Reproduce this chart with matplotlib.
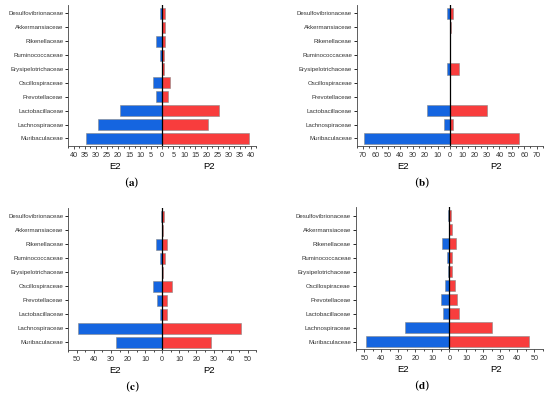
import matplotlib
matplotlib.use("Agg")
import matplotlib.pyplot as plt
import numpy as np
from matplotlib.ticker import FuncFormatter, MultipleLocator

plt.rcParams['font.family'] = ['Liberation Sans', 'DejaVu Sans']
plt.rcParams['mathtext.fontset'] = 'stix'

categories = ["Muribaculaceae", "Lachnospiraceae", "Lactobacillaceae", "Prevotellaceae",
              "Oscillospiraceae", "Erysipelotrichaceae", "Ruminococcaceae", "Rikenellaceae",
              "Akkermansiaceae", "Desulfovibrionaceae"]

e2_a = [34.5, 29.2, 19.0, 3.0, 4.4, 0.3, 1.2, 2.6, 0.2, 1.0]
p2_a = [39.4, 20.5, 25.8, 2.7, 3.3, 0.6, 1.0, 1.3, 1.2, 1.3]

e2_b = [69.0, 4.8, 18.3, 0.0, 0.0, 2.7, 0.0, 0.0, 0.0, 2.7]
p2_b = [55.5, 2.2, 29.6, 0.0, 0.0, 7.5, 0.0, 0.0, 1.0, 2.7]

e2_c = [27.3, 49.0, 1.6, 3.3, 5.3, 0.2, 1.4, 3.7, 0.0, 0.8]
p2_c = [28.3, 45.8, 2.5, 2.9, 5.8, 0.5, 1.6, 2.9, 0.6, 1.2]

e2_d = [49.0, 26.3, 3.5, 5.1, 2.4, 1.0, 1.2, 4.5, 0.0, 0.6]
p2_d = [47.1, 24.8, 5.7, 4.5, 3.1, 1.4, 1.4, 3.9, 1.8, 0.8]

panels = [
    ("a", e2_a, p2_a, 42.5, 5, 2.5, [0.124, 0.631, 0.342, 0.356]),
    ("b", e2_b, p2_b, 75, 10, 5, [0.649, 0.631, 0.338, 0.356]),
    ("c", e2_c, p2_c, 55, 10, 5, [0.124, 0.116, 0.342, 0.359]),
    ("d", e2_d, p2_d, 55, 10, 5, [0.647, 0.118, 0.340, 0.359]),
]
label_pos = {"a": (132/550, 1-183/396), "b": (422/550, 1-183/396),
             "c": (132/550, 1-387/396), "d": (422/550, 1-386/396)}

blue = "#1565E0"
red = "#F83D3D"

fig = plt.figure(figsize=(5.5, 3.96), dpi=100)
y = np.arange(len(categories))
for name, e2, p2, lim, major, minor, rect in panels:
    ax = fig.add_axes(rect)
    ax.barh(y, -np.array(e2), height=0.8, color=blue, edgecolor="#888888", linewidth=0.4)
    ax.barh(y, p2, height=0.8, color=red, edgecolor="#888888", linewidth=0.4)
    ax.axvline(0, color="black", linewidth=0.9)
    ax.set_xlim(-lim, lim)
    ax.set_ylim(-0.55, 9.6)
    ax.set_yticks(y)
    ax.set_yticklabels(categories, fontsize=4.4, color="#333333")
    ax.xaxis.set_major_locator(MultipleLocator(major))
    ax.xaxis.set_minor_locator(MultipleLocator(minor))
    ax.xaxis.set_major_formatter(FuncFormatter(lambda v, p: f"{abs(v):g}"))
    ax.tick_params(axis='x', labelsize=5.2, length=2.0, width=0.6, pad=2, colors="#333333")
    ax.tick_params(axis='x', which='minor', length=1.2, width=0.5)
    ax.tick_params(axis='y', length=2.0, width=0.6, pad=1.5)
    for s in ["top", "right"]:
        ax.spines[s].set_visible(False)
    for s in ["left", "bottom"]:
        ax.spines[s].set_linewidth(0.6)
        ax.spines[s].set_color("#444444")
    ax.text(0.25, -0.11, "E2", transform=ax.transAxes, ha="center", va="top", fontsize=6.8)
    ax.text(0.75, -0.11, "P2", transform=ax.transAxes, ha="center", va="top", fontsize=6.8)
    lx, ly = label_pos[name]
    fig.text(lx, ly, r"($\mathbf{" + name + r"}$)", ha="center", va="center", fontsize=8,
             family="DejaVu Serif")

fig.savefig("out.png", dpi=100)
